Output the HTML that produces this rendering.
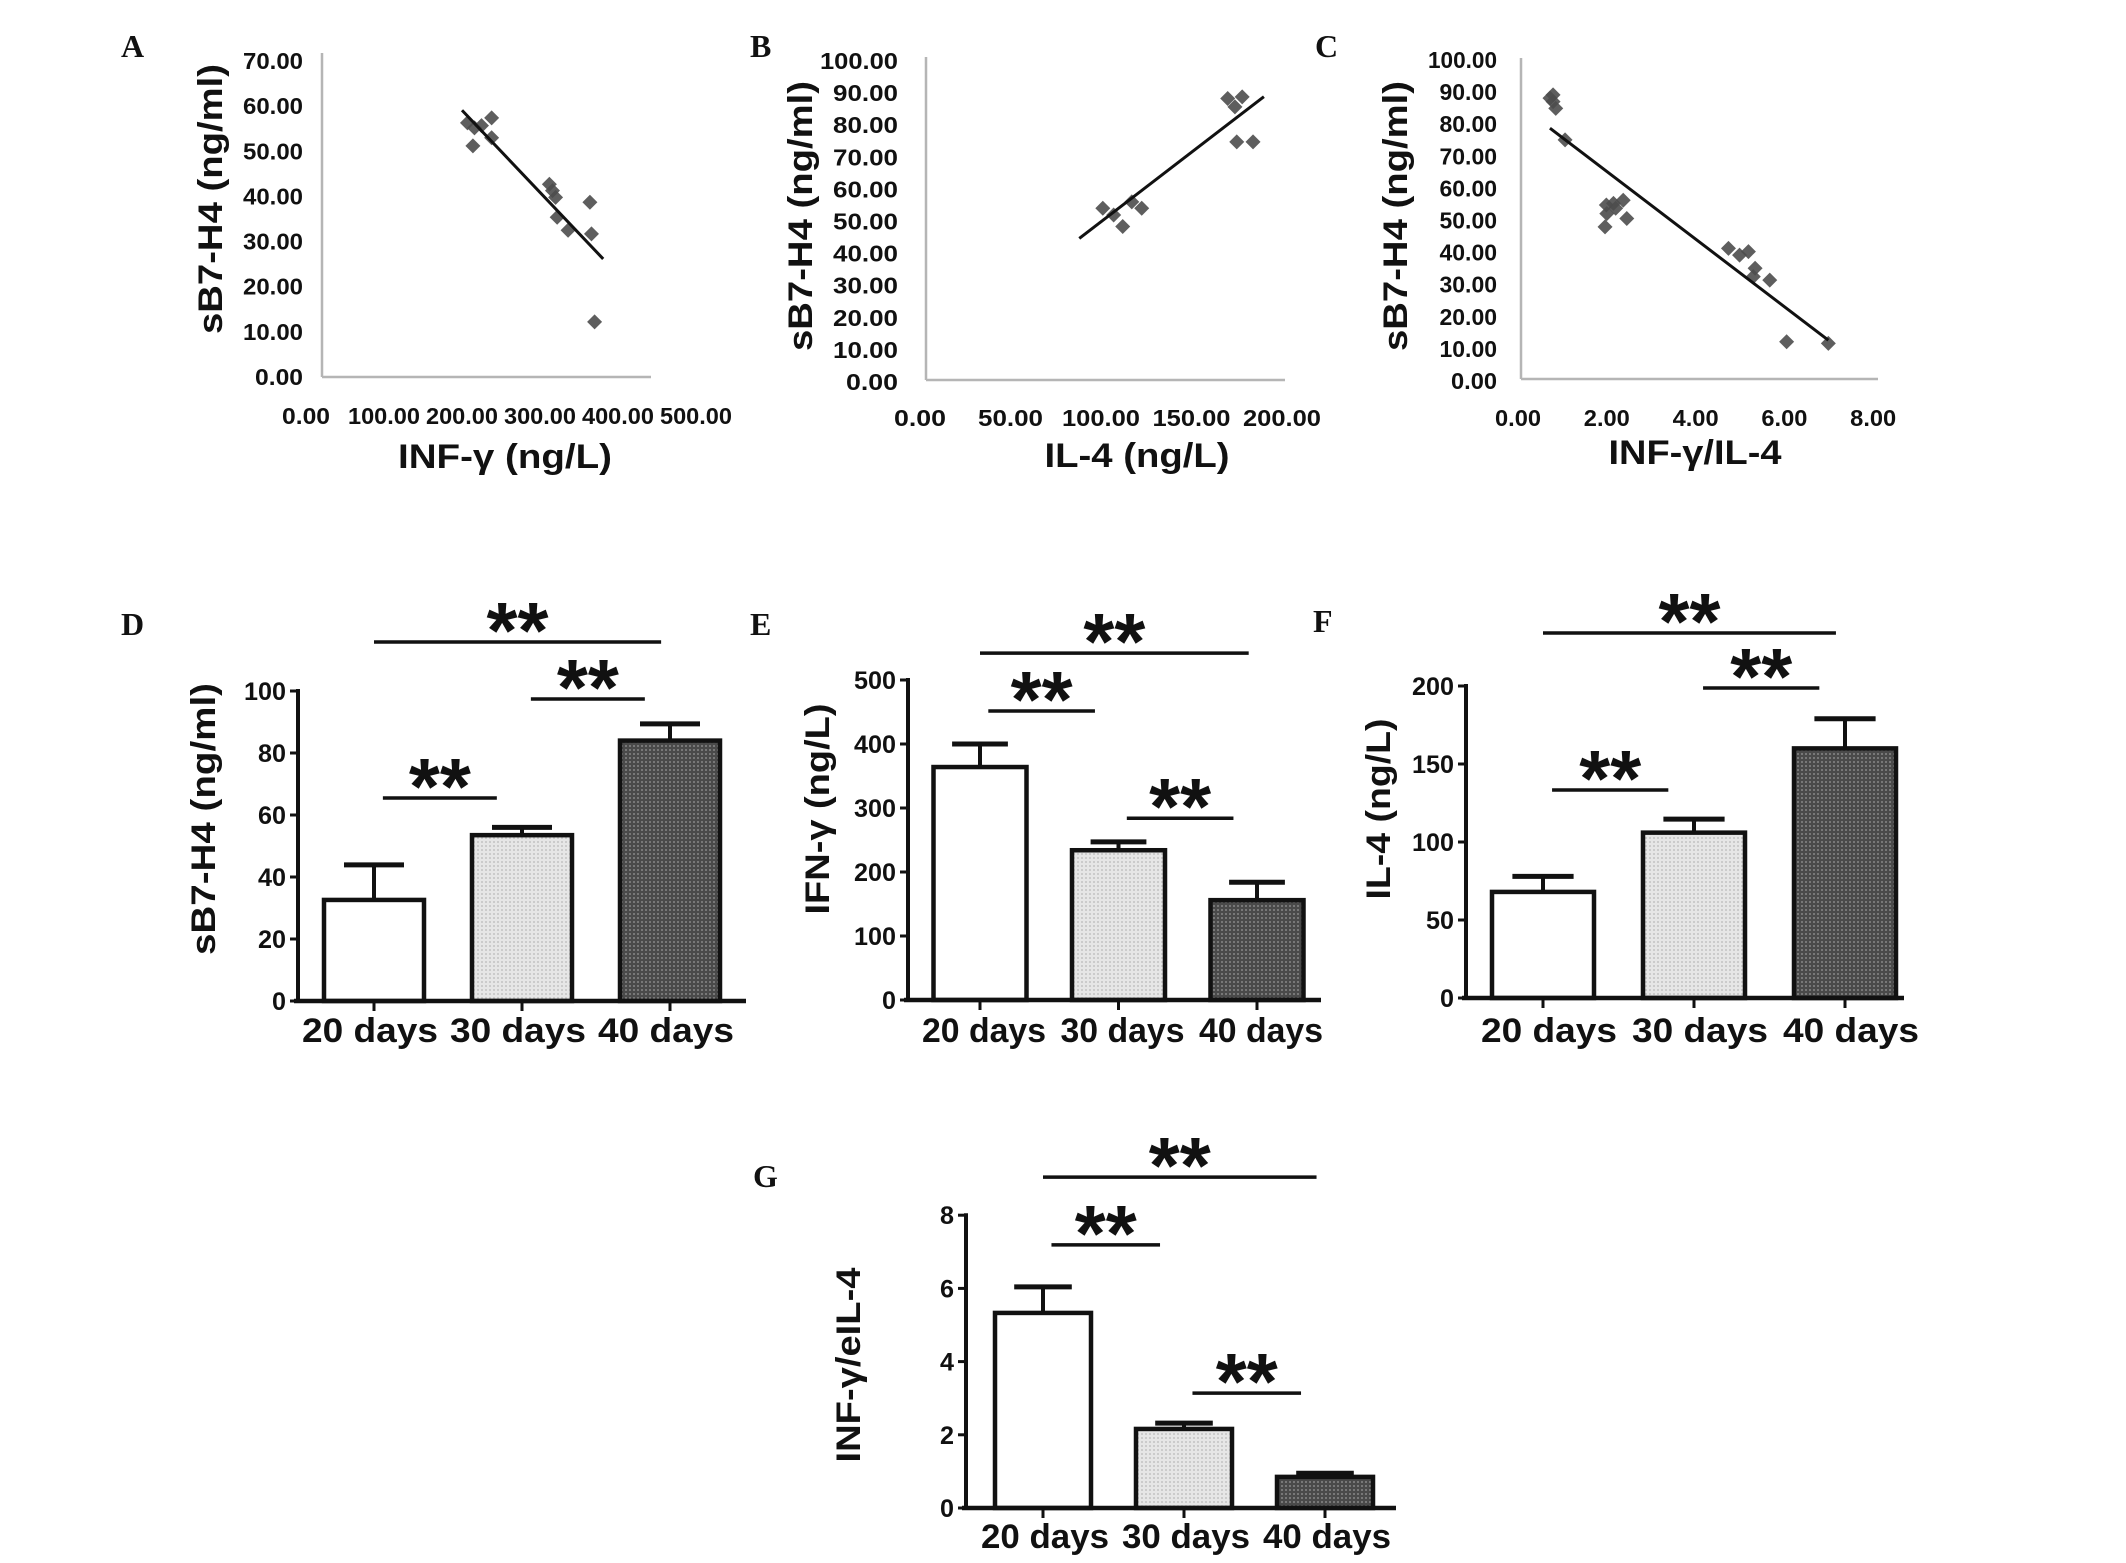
<!DOCTYPE html>
<html>
<head>
<meta charset="utf-8">
<style>
html,body{margin:0;padding:0;background:#fff;}
svg{display:block;}
text{font-family:"Liberation Sans",sans-serif;fill:#111;}
.pl{font-family:"Liberation Serif",serif;font-weight:bold;font-size:32px;}
.tk{font-weight:bold;font-size:23px;}
.btk{font-weight:bold;font-size:25px;}
.ttl{font-weight:bold;font-size:34px;}
.cat{font-weight:bold;font-size:34px;}
.ast{font-weight:bold;font-size:80px;}
</style>
</head>
<body>
<svg id="fig" width="2126" height="1563" viewBox="0 0 2126 1563" xmlns="http://www.w3.org/2000/svg">
<defs>
<pattern id="lightDots" width="4" height="4" patternUnits="userSpaceOnUse"><rect width="4" height="4" fill="#e6e6e6"/><circle cx="2" cy="2" r="0.9" fill="#b8b8b8"/></pattern>
<pattern id="darkDots" width="4" height="4" patternUnits="userSpaceOnUse"><rect width="4" height="4" fill="#4a4a4a"/><circle cx="2" cy="2" r="0.9" fill="#9a9a9a"/></pattern>
</defs>
</svg>
<script>
// ---------- Scatter data ----------
const aX = [207,216,225,238,238,214,312,316,320,322,336,364,366,370];
const aY = [56.3,55.2,55.7,57.4,53.0,51.2,42.7,41.3,39.8,35.4,32.5,38.7,31.7,12.2];
const aFit = [-0.182, 95.5];
const aFitRange = [200,381];
const aXTicks = [0,100,200,300,400,500];
const aYTicks = [0,10,20,30,40,50,60,70];

const bX = [101,107,112,117,122.5,170,178,174,175,184];
const bY = [53.5,51.4,47.8,55.5,53.5,87.7,88.2,85.1,74.2,74.2];
const bFit = [0.433, 6.0];
const bFitRange = [88,190];
const bXTicks = [0,50,100,150,200];
const bYTicks = [0,10,20,30,40,50,60,70,80,90,100];

const cX = [0.79,0.79,0.85,0.72,1.06,1.99,2.15,2.37,2.0,2.45,1.96,2.2,4.74,4.99,5.19,5.34,5.30,5.67,6.05,6.99];
const cY = [88.5,86.4,84.3,87.5,74.5,54.2,54.7,55.7,51.5,50.0,47.4,53.2,40.7,38.6,39.7,34.5,31.9,30.8,11.6,11.1];
const cFit = [-10.53, 85.7];
const cFitRange = [0.72,6.99];
const cXTicks = [0,2,4,6,8];
const cYTicks = [0,10,20,30,40,50,60,70,80,90,100];

// ---------- Bar data ----------
const categories = ["20 days","30 days","40 days"];
const dMeans = [32.6,53.5,84];
const dErr = [11.3,2.5,5.4];
const dTicks = [0,20,40,60,80,100];
const dSig = [[0,2,115.8],[1,2,97.4],[0,1,65.5]];

const eMeans = [364,234,156];
const eErr = [36,13,28];
const eTicks = [0,100,200,300,400,500];
const eSig = [[0,2,542],[0,1,451.6],[1,2,284]];

const fMeans = [68,106,160];
const fErr = [10,8.7,19];
const fTicks = [0,50,100,150,200];
const fSig = [[0,2,234],[1,2,198.7],[0,1,133.3]];

const gMeans = [5.33,2.16,0.85];
const gErr = [0.71,0.16,0.1];
const gTicks = [0,2,4,6,8];
const gSig = [[0,2,9.04],[0,1,7.19],[1,2,3.14]];

const NS = "http://www.w3.org/2000/svg";
const svg = document.getElementById('fig');

function mk(tag, attrs, name, parent){
  const el = document.createElementNS(NS, tag);
  for (const k in attrs) el.setAttribute(k, attrs[k]);
  
  
  (parent||svg).appendChild(el);
  return el;
}
function txt(x,y,s,cls,name,opts){
  opts = opts||{};
  const a = {x:x,y:y,'class':cls};
  if (opts.anchor) a['text-anchor']=opts.anchor;
  if (opts.len){a.textLength=opts.len;a.lengthAdjust='spacingAndGlyphs';}
  if (opts.rot) a.transform='rotate(-90 '+x+' '+y+')';
  const el = mk('text', a, name);
  el.textContent = s;
  return el;
}

function scatter(cfg){
  const g = mk('g',{},cfg.name);
  const X = v => cfg.x0 + v*cfg.xs;
  const Y = v => cfg.y0 - v*cfg.ys;
  mk('line',{x1:cfg.ax,y1:cfg.atop,x2:cfg.ax,y2:cfg.y0,stroke:'#b5b5b5','stroke-width':2.5},'y-axis-line',g);
  mk('line',{x1:cfg.ax,y1:cfg.y0,x2:cfg.aright,y2:cfg.y0,stroke:'#b5b5b5','stroke-width':2.5},'x-axis-line',g);
  cfg.yt.forEach(v=>{
    const s=v.toFixed(2);
    txt(cfg.ylabX, Y(v)+cfg.ylabDy, s, 'tk', 'y-tick-label', {anchor:'end',len:s.length*cfg.cw});
  });
  cfg.xt.forEach(v=>{
    const s=v.toFixed(2);
    txt(X(v), cfg.xlabY, s, 'tk', 'x-tick-label', {anchor:'middle',len:s.length*cfg.cw});
  });
  cfg.px.forEach((v,i)=>{
    const cx=X(v), cy=Y(cfg.py[i]), r=7.5;
    mk('polygon',{points:`${cx},${cy-r} ${cx+r},${cy} ${cx},${cy+r} ${cx-r},${cy}`,fill:'#4d4d4d',opacity:0.9},'data-point',g);
  });
  const [m,b]=cfg.fit;
  mk('line',{x1:X(cfg.fr[0]),y1:Y(m*cfg.fr[0]+b),x2:X(cfg.fr[1]),y2:Y(m*cfg.fr[1]+b),stroke:'#111','stroke-width':3},'trend-line',g);
  txt(cfg.ytX, cfg.ytY, 'sB7-H4 (ng/ml)', 'ttl', 'y-axis-title', {anchor:'middle',rot:true,len:270});
  txt(cfg.xtX, cfg.xtY, cfg.xtitle, 'ttl', 'x-axis-title', {anchor:'middle',len:cfg.xtLen});
  txt(cfg.plX, cfg.plY, cfg.letter, 'pl', 'panel-label');
}

scatter({name:'panel-a-scatter',letter:'A',plX:121,plY:57,x0:306,xs:0.78,y0:377,ys:4.514,ax:322,atop:53,aright:651,
  yt:aYTicks,xt:aXTicks,px:aX,py:aY,fit:aFit,fr:aFitRange,ylabX:303,ylabDy:8,xlabY:424,cw:12,
  ytX:222,ytY:199,xtitle:'INF-γ (ng/L)',xtX:505,xtY:468,xtLen:214});
scatter({name:'panel-b-scatter',letter:'B',plX:750,plY:57,x0:920,xs:1.81,y0:380,ys:3.21,ax:926,atop:57,aright:1285,
  yt:bYTicks,xt:bXTicks,px:bX,py:bY,fit:bFit,fr:bFitRange,ylabX:898,ylabDy:10,xlabY:426,cw:13,
  ytX:812,ytY:216,xtitle:'IL-4 (ng/L)',xtX:1137,xtY:467,xtLen:185});
scatter({name:'panel-c-scatter',letter:'C',plX:1315,plY:57,x0:1518,xs:44.4,y0:379,ys:3.21,ax:1521,atop:58,aright:1878,
  yt:cYTicks,xt:cXTicks,px:cX,py:cY,fit:cFit,fr:cFitRange,ylabX:1497,ylabDy:10,xlabY:426,cw:11.5,
  ytX:1407,ytY:216,xtitle:'INF-γ/IL-4',xtX:1695,xtY:464,xtLen:173});

function bars(cfg){
  const g = mk('g',{},cfg.name);
  const Y = v => cfg.y0 - v*cfg.ys;
  const C = i => cfg.c0 + i*cfg.step;
  const fills=['#ffffff','url(#lightDots)','url(#darkDots)'];
  cfg.means.forEach((v,i)=>{
    const cx=C(i), top=Y(v), et=Y(v+cfg.err[i]), cap=cfg.w*0.3;
    mk('line',{x1:cx,y1:top,x2:cx,y2:et,stroke:'#111','stroke-width':4},'error-bar',g);
    mk('line',{x1:cx-cap,y1:et,x2:cx+cap,y2:et,stroke:'#111','stroke-width':5},'error-cap',g);
    mk('rect',{x:cx-cfg.w/2,y:top,width:cfg.w,height:cfg.y0-top,fill:fills[i],stroke:'#111','stroke-width':4.5},'bar-'+categories[i].replace(' ','-'),g);
    mk('line',{x1:cx,y1:cfg.y0,x2:cx,y2:cfg.y0+10,stroke:'#111','stroke-width':3},'x-tick',g);
    txt(cx+(cfg.catDx||0), cfg.catY, categories[i], 'cat', 'x-category-label', {anchor:'middle',len:cfg.catLen});
  });
  mk('line',{x1:cfg.ax,y1:Y(cfg.ticks[cfg.ticks.length-1])-2,x2:cfg.ax,y2:cfg.y0+2,stroke:'#111','stroke-width':4},'y-axis-line',g);
  mk('line',{x1:cfg.ax-4,y1:cfg.y0,x2:cfg.aright,y2:cfg.y0,stroke:'#111','stroke-width':4.5},'x-axis-line',g);
  cfg.ticks.forEach(v=>{
    mk('line',{x1:cfg.ax-8,y1:Y(v),x2:cfg.ax,y2:Y(v),stroke:'#111','stroke-width':3},'y-tick',g);
    const s=String(v);
    txt(cfg.ax-12, Y(v)+9, s, 'btk', 'y-tick-label', {anchor:'end',len:s.length*14});
  });
  cfg.sig.forEach(s=>{
    const long = (s[1]-s[0])>1;
    const x1 = long ? C(s[0]) : C(s[0])+0.06*cfg.step;
    const x2 = long ? C(s[1])-0.06*cfg.step : C(s[1])-0.17*cfg.step;
    const y=Y(s[2]);
    mk('line',{x1:x1,y1:y,x2:x2,y2:y,stroke:'#111','stroke-width':3.5},'significance-line',g);
    txt((x1+x2)/2, y+16, '**', 'ast', 'significance-marker', {anchor:'middle',len:62});
  });
  txt(cfg.ytX, cfg.ytY, cfg.ytitle, 'ttl', 'y-axis-title', {anchor:'middle',rot:true,len:cfg.ytLen});
  txt(cfg.plX, cfg.plY, cfg.letter, 'pl', 'panel-label');
}

bars({name:'panel-d-bars',letter:'D',plX:121,plY:635,ax:298,y0:1001,ys:3.10,c0:374,step:148,w:100,aright:746,
  means:dMeans,err:dErr,ticks:dTicks,sig:dSig,catY:1042,catLen:136,catDx:-4,
  ytitle:'sB7-H4 (ng/ml)',ytX:215,ytY:819,ytLen:272});
bars({name:'panel-e-bars',letter:'E',plX:750,plY:635,ax:908,y0:1000,ys:0.64,c0:980,step:138.5,w:93,aright:1321,
  means:eMeans,err:eErr,ticks:eTicks,sig:eSig,catY:1042,catLen:124,catDx:4,
  ytitle:'IFN-γ (ng/L)',ytX:829,ytY:809,ytLen:211});
bars({name:'panel-f-bars',letter:'F',plX:1313,plY:632,ax:1466,y0:998,ys:1.56,c0:1543,step:151,w:102,aright:1904,
  means:fMeans,err:fErr,ticks:fTicks,sig:fSig,catY:1042,catLen:136,catDx:6,
  ytitle:'IL-4 (ng/L)',ytX:1390,ytY:809,ytLen:181});
bars({name:'panel-g-bars',letter:'G',plX:753,plY:1187,ax:966,y0:1508,ys:36.6,c0:1043,step:141,w:96,aright:1396,
  means:gMeans,err:gErr,ticks:gTicks,sig:gSig,catY:1548,catLen:128,catDx:2,
  ytitle:'INF-γ/eIL-4',ytX:860,ytY:1365,ytLen:195});
</script>
</body>
</html>
